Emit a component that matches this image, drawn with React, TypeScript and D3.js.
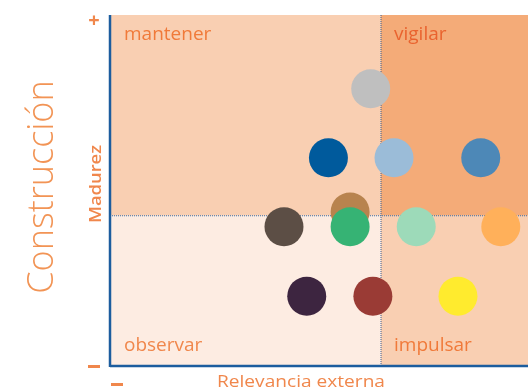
import React from "react";
import * as d3 from "d3";

const quadrantLabels = ["mantener", "vigilar", "observar", "impulsar"];
const pointNames = [
  "gris", "azul oscuro", "azul claro", "azul medio", "marrón", "gris pardo",
  "verde", "menta", "naranja", "morado", "granate", "amarillo",
];
const relevancia = [4.81, 4.03, 5.24, 6.84, 4.43, 3.21, 4.43, 5.65, 7.21, 3.63, 4.85, 6.42];
const madurez = [7.9, 5.93, 5.93, 5.93, 4.39, 3.97, 3.97, 3.97, 3.97, 1.99, 1.99, 1.99];
const pointColors = [
  "#BFBFBF", "#005A9C", "#9BBCD8", "#4D88B7", "#B8834E", "#5C4E45",
  "#36B374", "#9DDAB9", "#FFB05A", "#3D2540", "#9A3B35", "#FFEB2E",
];
const xMid = 5;
const yMid = 4.28;

const W = 528;
const H = 391;

export default function App() {
  const x = d3.scaleLinear().domain([0, 10]).range([110, 652]);
  const y = d3.scaleLinear().domain([0, 10]).range([366, 15]);
  const x0 = x(0), x1 = W, y0 = y(10), y1 = y(0);
  const xm = x(xMid), ym = y(yMid);
  const orange = "#F0874C";
  const axisBlue = "#1C5D9E";
  const font = "'Open Sans', sans-serif";
  return (
    <svg width={W} height={H} style={{ position: "fixed", left: 0, top: 0, display: "block" }}>
      <rect x={x0} y={y0} width={xm - x0} height={ym - y0} fill="#F9CFB2" />
      <rect x={xm} y={y0} width={x1 - xm} height={ym - y0} fill="#F4AB78" />
      <rect x={x0} y={ym} width={xm - x0} height={y1 - ym} fill="#FDECE2" />
      <rect x={xm} y={ym} width={x1 - xm} height={y1 - ym} fill="#F9CFB2" />
      <line x1={xm} x2={xm} y1={y0} y2={y1} stroke="#3C5F8E" strokeWidth={1} strokeDasharray="1,1" />
      <line x1={x0} x2={x1} y1={ym} y2={ym} stroke="#3C6FA8" strokeWidth={1.2} strokeDasharray="1,1" />
      <text x={124} y={40} fill="#F07A3A" fontSize={19} fontFamily={font}>{quadrantLabels[0]}</text>
      <text x={394} y={40} fill="#E9632F" fontSize={19} fontFamily={font}>{quadrantLabels[1]}</text>
      <text x={124} y={351} fill="#F0874C" fontSize={19} fontFamily={font}>{quadrantLabels[2]}</text>
      <text x={394} y={351} fill="#F07A3A" fontSize={19} fontFamily={font}>{quadrantLabels[3]}</text>
      {relevancia.map((v, i) => (
        <circle key={pointNames[i]} cx={x(v)} cy={y(madurez[i])} r={19.5} fill={pointColors[i]} />
      ))}
      <line x1={x0} x2={x0} y1={y0} y2={y1 + 1} stroke={axisBlue} strokeWidth={2.5} />
      <line x1={x0} x2={x1} y1={y1} y2={y1} stroke={axisBlue} strokeWidth={2.5} />
      <text x={94} y={27} fill={orange} fontSize={20} fontWeight="bold" textAnchor="middle" fontFamily={font}>+</text>
      <rect x={88} y={365} width={12} height={3} fill={orange} />
      <rect x={111} y={383} width={12} height={3} fill={orange} />
      <text x={217} y={387} fill={orange} fontSize={16.5} textLength={168} lengthAdjust="spacingAndGlyphs" fontFamily={font}>Relevancia externa</text>
      <text transform={`translate(101,223) rotate(-90)`} fill={orange} fontSize={16} fontWeight="600" textLength={78} lengthAdjust="spacingAndGlyphs" fontFamily={font}>Madurez</text>
      <text transform={`translate(53,187) rotate(-90)`} fill="#F29455" fontSize={36} fontWeight="300" textAnchor="middle" fontFamily={font}>Construcción</text>
    </svg>
  );
}
